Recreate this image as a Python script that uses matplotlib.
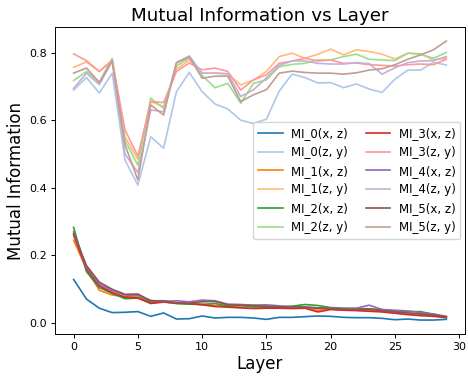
import matplotlib
matplotlib.use("Agg")
import matplotlib.pyplot as plt
import numpy as np

layers = list(range(30))

mi0_xz = [0.129, 0.071, 0.044, 0.031, 0.032, 0.034, 0.020, 0.030, 0.012, 0.013,
          0.021, 0.015, 0.017, 0.017, 0.015, 0.011, 0.017, 0.017, 0.019, 0.021,
          0.020, 0.017, 0.016, 0.016, 0.014, 0.010, 0.012, 0.009, 0.009, 0.011]
mi0_zy = [0.689, 0.726, 0.680, 0.739, 0.482, 0.408, 0.551, 0.517, 0.684, 0.741,
          0.684, 0.648, 0.633, 0.600, 0.590, 0.603, 0.686, 0.736, 0.726, 0.710,
          0.711, 0.696, 0.707, 0.692, 0.682, 0.721, 0.748, 0.748, 0.771, 0.763]
mi1_xz = [0.245, 0.160, 0.097, 0.083, 0.078, 0.078, 0.062, 0.063, 0.058, 0.058,
          0.056, 0.052, 0.050, 0.047, 0.049, 0.048, 0.046, 0.045, 0.046, 0.038,
          0.042, 0.040, 0.038, 0.037, 0.035, 0.030, 0.028, 0.026, 0.022, 0.018]
mi1_zy = [0.756, 0.772, 0.744, 0.778, 0.551, 0.484, 0.655, 0.640, 0.751, 0.778,
          0.739, 0.739, 0.737, 0.704, 0.719, 0.744, 0.788, 0.798, 0.783, 0.795,
          0.810, 0.793, 0.808, 0.803, 0.795, 0.781, 0.798, 0.796, 0.778, 0.783]
mi2_xz = [0.283, 0.152, 0.105, 0.088, 0.072, 0.074, 0.063, 0.064, 0.058, 0.056,
          0.055, 0.058, 0.050, 0.052, 0.048, 0.047, 0.048, 0.050, 0.055, 0.052,
          0.046, 0.044, 0.043, 0.042, 0.040, 0.036, 0.034, 0.034, 0.026, 0.016]
mi2_zy = [0.717, 0.744, 0.713, 0.783, 0.540, 0.467, 0.665, 0.635, 0.760, 0.785,
          0.732, 0.696, 0.709, 0.650, 0.709, 0.719, 0.758, 0.765, 0.768, 0.778,
          0.778, 0.788, 0.795, 0.780, 0.778, 0.776, 0.798, 0.795, 0.783, 0.800]
mi3_xz = [0.260, 0.160, 0.110, 0.090, 0.077, 0.074, 0.058, 0.062, 0.059, 0.058,
          0.054, 0.049, 0.047, 0.045, 0.043, 0.044, 0.044, 0.043, 0.044, 0.033,
          0.040, 0.038, 0.037, 0.035, 0.033, 0.029, 0.025, 0.022, 0.020, 0.016]
mi3_zy = [0.796, 0.776, 0.744, 0.776, 0.571, 0.494, 0.655, 0.652, 0.744, 0.769,
          0.749, 0.754, 0.744, 0.689, 0.719, 0.734, 0.768, 0.775, 0.783, 0.775,
          0.778, 0.768, 0.769, 0.764, 0.762, 0.760, 0.764, 0.766, 0.764, 0.780]
mi4_xz = [0.270, 0.165, 0.115, 0.095, 0.083, 0.082, 0.067, 0.064, 0.066, 0.063,
          0.068, 0.066, 0.056, 0.055, 0.053, 0.054, 0.051, 0.048, 0.048, 0.045,
          0.045, 0.043, 0.044, 0.053, 0.040, 0.038, 0.036, 0.031, 0.027, 0.020]
mi4_zy = [0.694, 0.739, 0.705, 0.775, 0.500, 0.445, 0.630, 0.625, 0.771, 0.790,
          0.739, 0.739, 0.737, 0.670, 0.690, 0.725, 0.762, 0.775, 0.775, 0.768,
          0.766, 0.766, 0.770, 0.767, 0.736, 0.755, 0.770, 0.775, 0.776, 0.788]
mi5_xz = [0.265, 0.170, 0.121, 0.100, 0.085, 0.086, 0.066, 0.066, 0.060, 0.059,
          0.063, 0.064, 0.054, 0.053, 0.052, 0.050, 0.048, 0.048, 0.047, 0.044,
          0.043, 0.041, 0.040, 0.041, 0.037, 0.033, 0.030, 0.027, 0.024, 0.019]
mi5_zy = [0.739, 0.754, 0.711, 0.775, 0.527, 0.423, 0.645, 0.615, 0.769, 0.787,
          0.724, 0.730, 0.730, 0.655, 0.675, 0.690, 0.739, 0.745, 0.741, 0.739,
          0.739, 0.736, 0.740, 0.748, 0.752, 0.764, 0.780, 0.793, 0.808, 0.834]

series = [
    ("MI_0(x, z)", mi0_xz), ("MI_0(z, y)", mi0_zy),
    ("MI_1(x, z)", mi1_xz), ("MI_1(z, y)", mi1_zy),
    ("MI_2(x, z)", mi2_xz), ("MI_2(z, y)", mi2_zy),
    ("MI_3(x, z)", mi3_xz), ("MI_3(z, y)", mi3_zy),
    ("MI_4(x, z)", mi4_xz), ("MI_4(z, y)", mi4_zy),
    ("MI_5(x, z)", mi5_xz), ("MI_5(z, y)", mi5_zy),
]

colors = plt.get_cmap("tab20").colors

fig = plt.figure(figsize=(4.68, 3.78), dpi=100)
ax = fig.add_axes([0.1175, 0.1164, 0.876, 0.812])
for i, (name, vals) in enumerate(series):
    ax.plot(layers, vals, color=colors[i], label=name, linewidth=1.2)

ax.set_title("Mutual Information vs Layer", fontsize=13.2, pad=4.5)
ax.set_xlabel("Layer", fontsize=12, labelpad=2.5)
ax.set_ylabel("Mutual Information", fontsize=12, labelpad=3)
ax.set_xticks([0, 5, 10, 15, 20, 25, 30])
ax.tick_params(labelsize=8, length=3, width=0.7, pad=2.5)
for s in ax.spines.values():
    s.set_linewidth(0.7)
ax.legend(ncol=2, loc="center right", fontsize=8.5, handlelength=2.1,
          handletextpad=0.7, columnspacing=1.5, borderpad=0.4,
          labelspacing=0.5, borderaxespad=0.4)

fig.savefig("out.png", dpi=100)
